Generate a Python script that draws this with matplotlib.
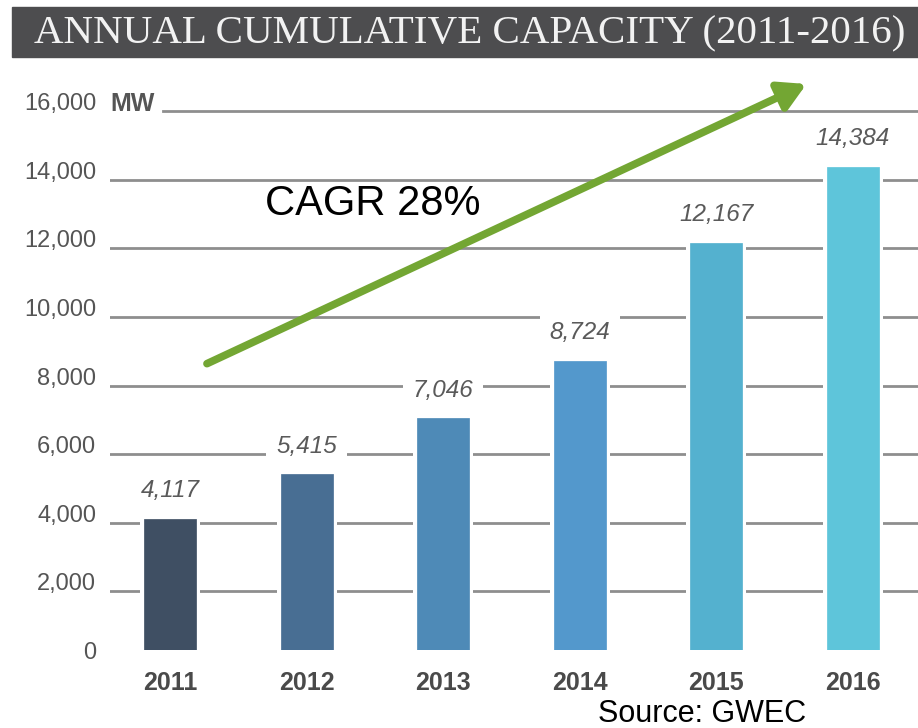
import matplotlib
matplotlib.use("Agg")
import matplotlib.pyplot as plt
from matplotlib.patches import Rectangle

years = ["2011", "2012", "2013", "2014", "2015", "2016"]
capacity = [4117, 5415, 7046, 8724, 12167, 14384]
value_labels = ["4,117", "5,415", "7,046", "8,724", "12,167", "14,384"]
bar_colors = ["#3f4f63", "#486e93", "#4e8ab7", "#5398cc", "#54b1cf", "#5ec5da"]
yticks = [0, 2000, 4000, 6000, 8000, 10000, 12000, 14000, 16000]
ytick_labels = ["0", "2,000", "4,000", "6,000", "8,000", "10,000", "12,000", "14,000", "16,000"]
title = "ANNUAL CUMULATIVE CAPACITY (2011-2016)"
unit = "MW"
annotation = "CAGR 28%"
source = "Source: GWEC"

W, H = 918, 728
fig = plt.figure(figsize=(W / 100, H / 100), dpi=100)

sans = ["Liberation Sans", "DejaVu Sans"]

# axes: left px 110, right px 918, bottom px 650, top px 94
ax = fig.add_axes([110 / W, (H - 650) / H, (918 - 110) / W, (650 - 94) / H])
ax.set_xlim(-0.439, 5.476)
ax.set_ylim(290, 16500)
ax.axis("off")

x = list(range(len(years)))
grid_color = "#8e8e8e"
for t in yticks[1:]:
    xmin = 0.066 if t == yticks[-1] else 0.0
    ax.axhline(t, xmin=xmin, xmax=1.0, color=grid_color, lw=2.0, zorder=1)

# white halo behind bars
ax.bar(x, [c + 150 for c in capacity], width=0.44, color="white", zorder=2)
ax.bar(x, capacity, width=0.38, color=bar_colors, zorder=3,
       edgecolor=bar_colors, linewidth=0.5)

for xi, v, lab in zip(x, capacity, value_labels):
    ax.annotate(lab, (xi, v), xytext=(0, 12), textcoords="offset points",
                ha="center", va="bottom", fontsize=17.5, style="italic",
                color="#5a5a5a", family=sans, zorder=4,
                bbox=dict(boxstyle="square,pad=0.4", fc="white", ec="none"))

# y tick labels
for t, lab in zip(yticks, ytick_labels):
    ax.annotate(lab, (0, t), xycoords=("axes fraction", "data"),
                xytext=(-10, 5), textcoords="offset points",
                ha="right", va="center", fontsize=17, color="#555555",
                family=sans, annotation_clip=False)
ax.annotate(unit, (0, yticks[-1]), xycoords=("axes fraction", "data"),
            xytext=(0, 5), textcoords="offset points", ha="left", va="center",
            fontsize=18, fontweight="bold", color="#555555", family=sans,
            annotation_clip=False)

# x labels
for xi, y in zip(x, years):
    ax.annotate(y, (xi, 0), xycoords=("data", "axes fraction"),
                xytext=(0, -24), textcoords="offset points", ha="center",
                va="center", fontsize=18, fontweight="bold", color="#4a4a4a",
                family=sans, annotation_clip=False)

# CAGR arrow
ax.annotate("", xy=(0.862, 1.018), xytext=(0.12, 0.515),
            xycoords="axes fraction", textcoords="axes fraction",
            arrowprops=dict(arrowstyle="-|>,head_length=1.6,head_width=0.9",
                            color="#73a633", lw=5.5, shrinkA=0, shrinkB=0),
            annotation_clip=False, zorder=6)
fig.text(265 / W, 1 - 204 / H, annotation, fontsize=30, color="black",
         family="Liberation Sans", ha="left", va="center")

# title band
fig.patches.append(Rectangle((12 / W, 1 - 57 / H), (W - 12) / W, 50 / H,
                             transform=fig.transFigure, color="#4d4d4f",
                             zorder=0))
fig.text(470 / W, 1 - 34 / H, title, fontsize=29.5, color="#f2f2f2",
         family="Liberation Serif", ha="center", va="center")

fig.text(598 / W, 1 - 714 / H, source, fontsize=22, color="black",
         family="Liberation Sans", ha="left", va="center")

fig.savefig("out.png", dpi=100)
